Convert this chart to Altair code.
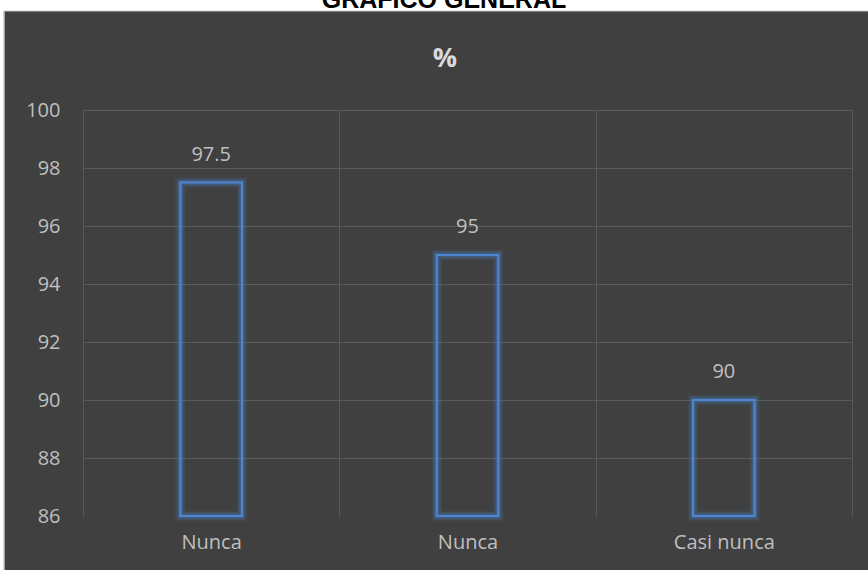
import altair as alt
import pandas as pd

categories = ["Nunca", "Nunca", "Casi nunca"]
values = [97.5, 95, 90]
y_ticks = [86, 88, 90, 92, 94, 96, 98, 100]

keys = [f"c{i}" for i in range(len(categories))]
df = pd.DataFrame({"key": keys, "label": categories, "value": values})
label_map = "{" + ", ".join(f"'{k}': '{c}'" for k, c in zip(keys, categories)) + "}"

W, H = 769, 406
PL, PT, PR, PB = 83, 110, 16, 54
BG = "#404040"
GRID = "#5a5a5a"
TXT = "#bfbfbf"
BLUE = "#4f86d4"
FONT = "Open Sans"
FS = 20

xenc = alt.X("key:N", sort=keys,
             scale=alt.Scale(paddingInner=0, paddingOuter=0),
             axis=alt.Axis(title=None, labelExpr=f"{label_map}[datum.value]",
                           grid=True, tickBand="extent", gridColor=GRID, gridWidth=1,
                           domain=False, ticks=False, labelAngle=0,
                           labelFont=FONT, labelFontSize=FS, labelColor=TXT,
                           labelPadding=16))
yenc = alt.Y("value:Q", scale=alt.Scale(domain=[86, 100], zero=False, nice=False),
             axis=alt.Axis(title=None, values=y_ticks, grid=True, gridColor=GRID, gridWidth=1,
                           gridOpacity={"condition": {"test": "datum.value == 86", "value": 0}, "value": 1},
                           domain=False, ticks=False, labelFont=FONT, labelFontSize=FS,
                           labelColor=TXT, labelPadding=23))

base = alt.Chart(df)

glow_layers = []
for sw, op in [(11, 0.08), (8, 0.14), (5, 0.25)]:
    glow_layers.append(
        base.mark_bar(width=alt.RelativeBandSize(0.24), fill="transparent",
                      stroke=BLUE, strokeWidth=sw, strokeOpacity=op)
        .encode(x=xenc, y=yenc, y2=alt.datum(86))
    )

bars = base.mark_bar(width=alt.RelativeBandSize(0.24), fill="transparent",
                     stroke=BLUE, strokeWidth=2).encode(x=xenc, y=yenc, y2=alt.datum(86))

labels = base.mark_text(dy=-28, baseline="middle", font=FONT, fontSize=FS, color=TXT).encode(
    x=xenc, y=yenc, text=alt.Text("value:Q")
)

one = alt.Data(values=[{"a": 1}])

top_strip = alt.Chart(one).mark_rect(color="white").encode(
    x=alt.value(-PL), x2=alt.value(W + PR), y=alt.value(-PT), y2=alt.value(-99)
)
left_strip = alt.Chart(one).mark_rect(color="white").encode(
    x=alt.value(-PL), x2=alt.value(-79), y=alt.value(-PT), y2=alt.value(H + PB)
)
border_top = alt.Chart(one).mark_rule(color="#c8c8c8", strokeWidth=1).encode(
    x=alt.value(-79), x2=alt.value(W + PR), y=alt.value(-99)
)
border_left = alt.Chart(one).mark_rule(color="#c8c8c8", strokeWidth=1.5).encode(
    x=alt.value(-79), y=alt.value(-99), y2=alt.value(H + PB)
)
main_title = alt.Chart(one).mark_text(text="GRÁFICO GENERAL", font="Liberation Sans",
                                      fontWeight="bold", fontSize=25, color="black",
                                      baseline="alphabetic", align="center").encode(
    x=alt.value(444 - PL), y=alt.value(8 - PT)
)
pct_title = alt.Chart(one).mark_text(text="%", font=FONT, fontWeight="bold", fontSize=27,
                                     color="#d9d9d9", baseline="middle", align="center").encode(
    x=alt.value(445 - PL), y=alt.value(59 - PT)
)

chart = alt.layer(
    *glow_layers, bars, labels,
    top_strip, left_strip, border_top, border_left, main_title, pct_title
).properties(
    width=W, height=H,
    background=BG,
    padding={"left": PL, "top": PT, "right": PR, "bottom": PB},
    autosize=alt.AutoSizeParams(type="none"),
).configure_view(stroke=None)

chart.save("out.html", embed_options={"renderer": "svg", "actions": False})
